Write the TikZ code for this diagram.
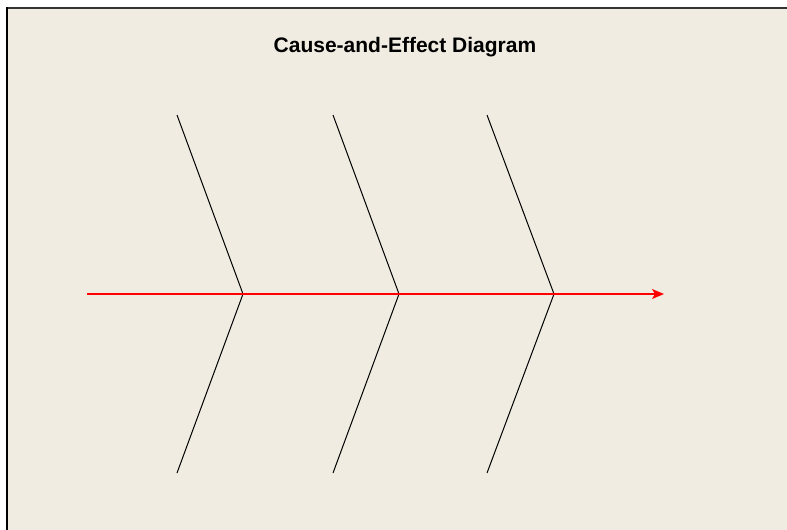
\documentclass[tikz,border=0pt]{standalone}
\usepackage{fontspec}
\setmainfont{Liberation Sans}
\usetikzlibrary{arrows.meta}
\definecolor{panel}{HTML}{F0ECE2}
\definecolor{redline}{HTML}{FF0000}
\tikzset{
  bone/.style={draw=black, line width=1pt},
  spine/.style={draw=redline, line width=1.4pt, -{Stealth[length=12pt,width=10pt,inset=3pt]}},
  titletext/.style={font=\bfseries\fontsize{21}{24}\selectfont, inner sep=0pt}
}
\begin{document}
\begin{tikzpicture}[x=1pt,y=-1pt]
\useasboundingbox (0,0) rectangle (787,530);
\fill[white] (0,0) rectangle (787,530);
\fill[panel] (7,8) rectangle (787,530);
\draw[line width=2pt, black!80] (6,8) -- (787,8);
\draw[line width=2pt, black] (7,7) -- (7,530);
\node[titletext] (title) at (405,47.5) {Cause-and-Effect Diagram};
\coordinate (tail) at (87,294);
\coordinate (head) at (664,294);
\coordinate (a1) at (243,294);
\coordinate (t1) at (177,115);
\coordinate (b1) at (177,473);
\coordinate (a2) at (399,294);
\coordinate (t2) at (333,115);
\coordinate (b2) at (333,473);
\coordinate (a3) at (554,294);
\coordinate (t3) at (487,115);
\coordinate (b3) at (487,473);
\draw[bone] (t1) -- (a1) -- (b1);
\draw[bone] (t2) -- (a2) -- (b2);
\draw[bone] (t3) -- (a3) -- (b3);
\draw[spine] (tail) -- (head);
\end{tikzpicture}
\end{document}
